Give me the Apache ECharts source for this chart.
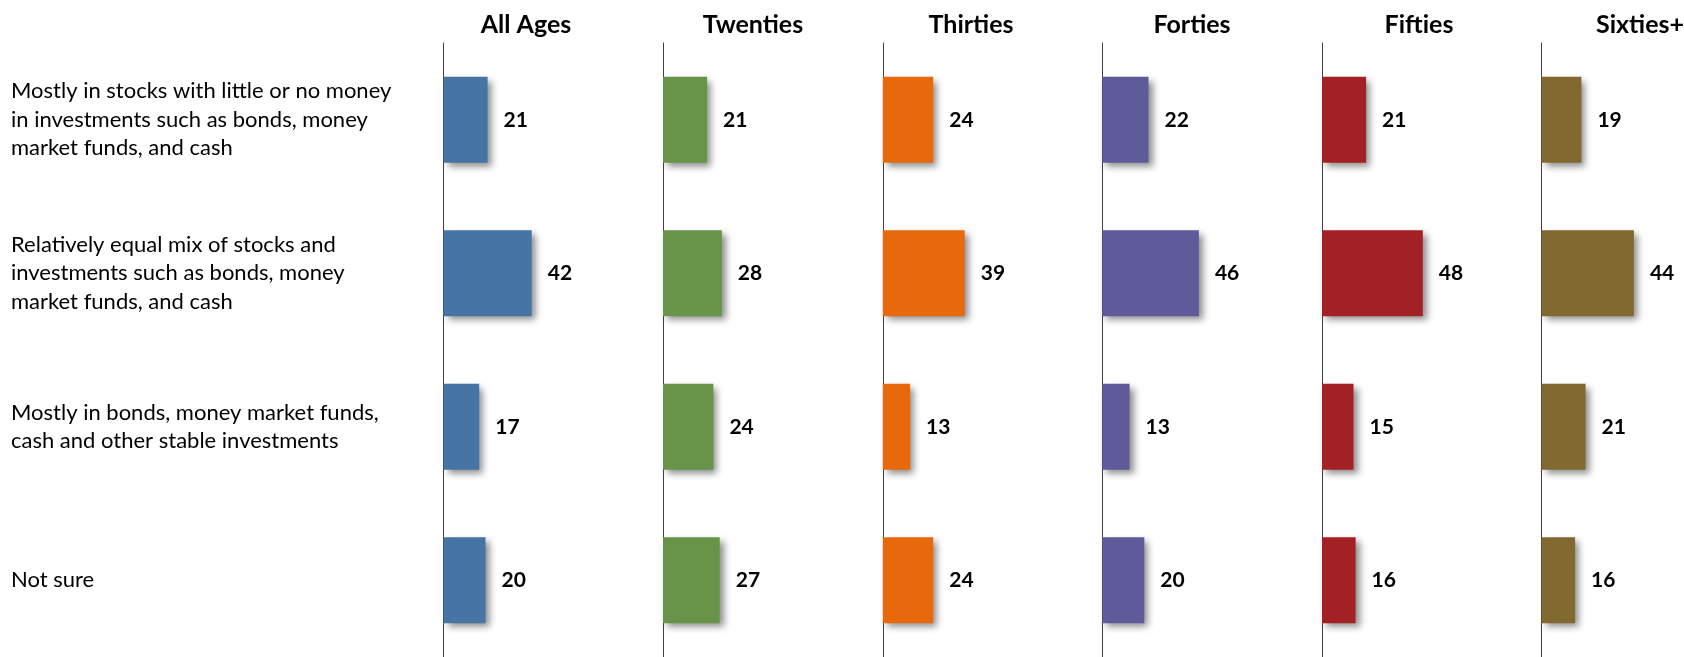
<!DOCTYPE html>
<html>
<head>
<meta charset="utf-8">
<script src="https://cdn.jsdelivr.net/npm/echarts@6/dist/echarts.min.js"></script>
<style>
html,body{margin:0;padding:0;background:#fff;}
#chart{width:1684px;height:657px;}
</style>
</head>
<body>
<div id="chart"></div>
<script>
// ---- data ----
const categories = [
  "Mostly in stocks with little or no money\nin investments such as bonds, money\nmarket funds, and cash",
  "Relatively equal mix of stocks and\ninvestments such as bonds, money\nmarket funds, and cash",
  "Mostly in bonds, money market funds,\ncash and other stable investments",
  "Not sure"
];
const panels = ["All Ages", "Twenties", "Thirties", "Forties", "Fifties", "Sixties+"];
const allAges  = [21, 42, 17, 20];
const twenties = [21, 28, 24, 27];
const thirties = [24, 39, 13, 24];
const forties  = [22, 46, 13, 20];
const fifties  = [21, 48, 15, 16];
const sixties  = [19, 44, 21, 16];
const panelValues = [allAges, twenties, thirties, forties, fifties, sixties];

// ---- layout / style ----
const colors = ["#4674A5", "#679449", "#E8690B", "#5F5B9A", "#A32124", "#826930"];
const axisX = [443.5, 663, 882.8, 1102.3, 1322, 1541.5];
const titleCenters = [526, 753, 971, 1192, 1419, 1640];
const axisMax = 60;
const gridWidth = 2.1 * axisMax;
const gridTop = 43;
const gridHeight = 617;

const chart = echarts.init(document.getElementById('chart'), null, {renderer: 'canvas'});

const grids = [], xAxes = [], yAxes = [], series = [], graphics = [];
panels.forEach((p, i) => {
  grids.push({left: axisX[i], top: gridTop, width: gridWidth, height: gridHeight, containLabel: false});
  xAxes.push({type: 'value', gridIndex: i, min: 0, max: axisMax, show: false});
  yAxes.push({
    type: 'category', gridIndex: i, data: categories, inverse: true,
    axisLine: {show: true, lineStyle: {color: '#404040', width: 1}},
    axisTick: {show: false},
    splitLine: {show: false},
    axisLabel: i === 0 ? {
      show: true, align: 'left', margin: axisX[0] - 11,
      fontFamily: 'Lato', fontSize: 22, color: '#000', lineHeight: 28.5
    } : {show: false}
  });
  series.push({
    type: 'bar', xAxisIndex: i, yAxisIndex: i, data: panelValues[i],
    barCategoryGap: '44%',
    itemStyle: {
      color: colors[i],
      shadowColor: 'rgba(0,0,0,0.45)', shadowBlur: 7, shadowOffsetX: 4, shadowOffsetY: 4
    },
    label: {
      show: true, position: 'right', distance: 16,
      fontFamily: 'Lato', fontWeight: 'bold', fontSize: 21, color: '#000'
    },
    silent: true
  });
  graphics.push({
    type: 'text', x: titleCenters[i], y: 25,
    style: {text: p, align: 'center', verticalAlign: 'middle',
            font: 'bold 25px Lato', fill: '#000'}
  });
});

chart.setOption({
  animation: false,
  backgroundColor: '#fff',
  grid: grids, xAxis: xAxes, yAxis: yAxes, series: series,
  graphic: graphics
});
</script>
</body>
</html>
